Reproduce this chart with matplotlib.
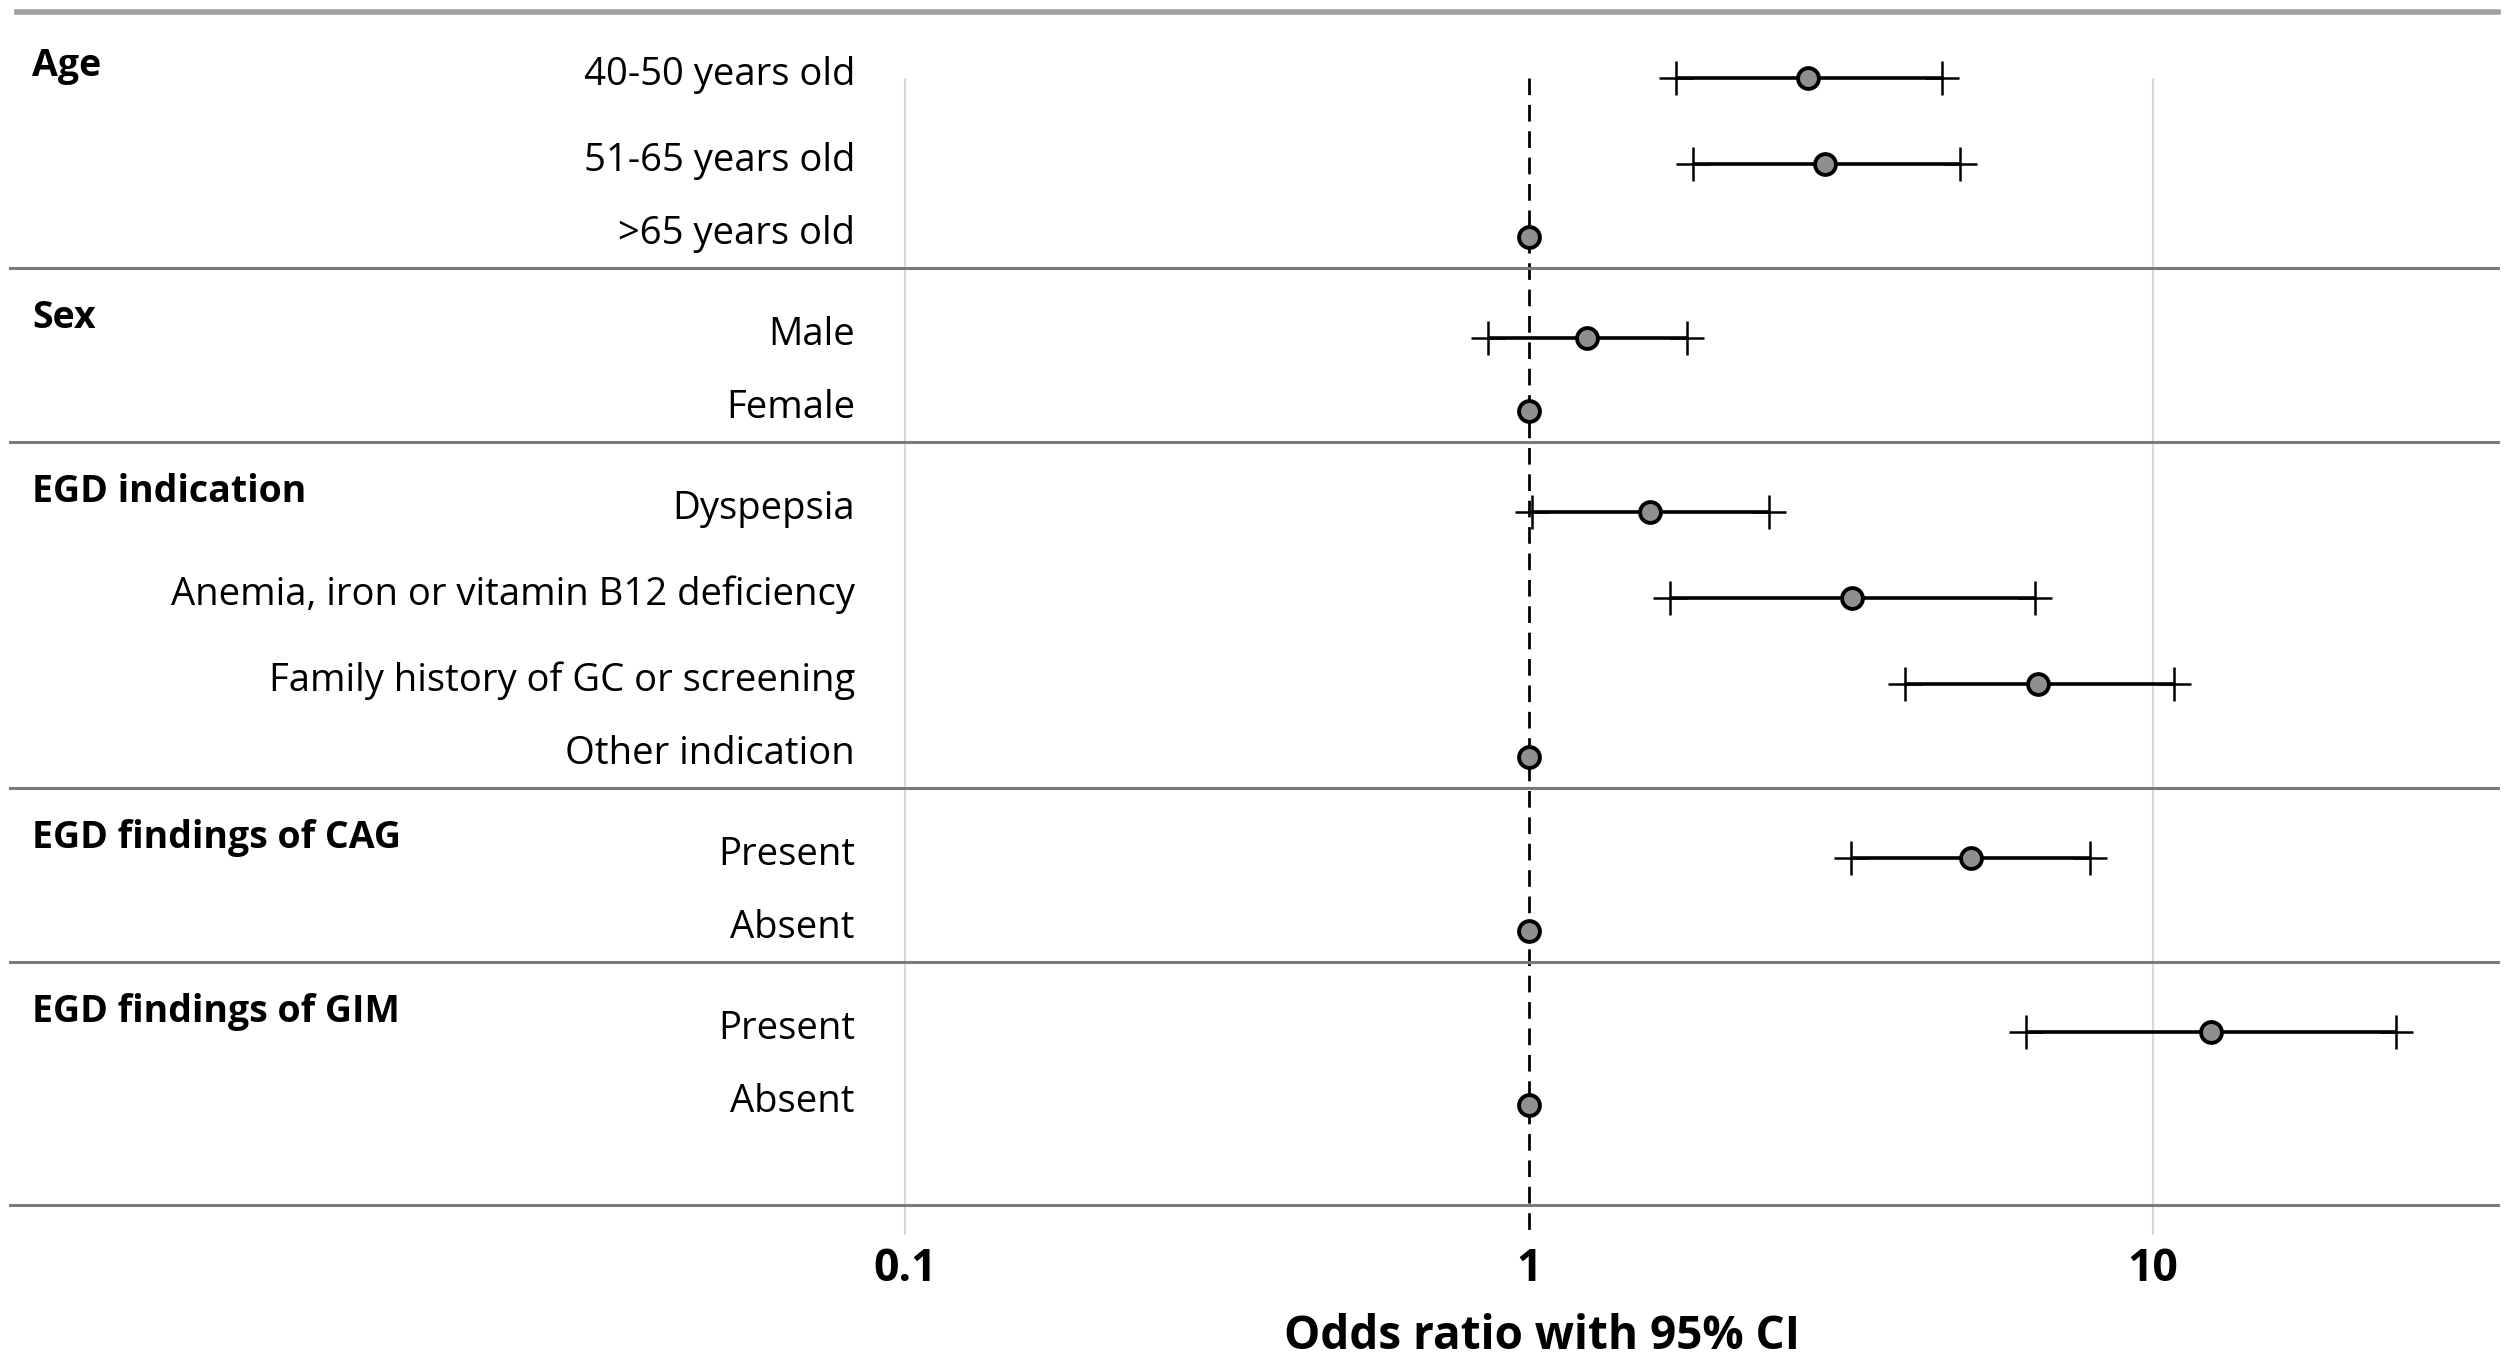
import numpy as np
import matplotlib.pyplot as plt

plt.rcParams['font.family'] = ['Open Sans', 'DejaVu Sans']

# gruplar ve satirlar
bolumler = ["Age", "Sex", "EGD indication", "EGD findings of CAG", "EGD findings of GIM"]
satirlar = [
    ["40-50 years old", "51-65 years old", ">65 years old"],
    ["Male", "Female"],
    ["Dyspepsia", "Anemia, iron or vitamin B12 deficiency",
     "Family history of GC or screening", "Other indication"],
    ["Present", "Absent"],
    ["Present", "Absent"],
]
# odds ratio ve %95 GA (referans satirlarda GA yok)
odds = [2.80, 2.98, 1.0, 1.24, 1.0, 1.56, 3.29, 6.54, 1.0, 5.11, 1.0, 12.4, 1.0]
ci_alt = [1.72, 1.83, np.nan, 0.86, np.nan, 1.01, 1.68, 4.0, np.nan, 3.28, np.nan, 6.26, np.nan]
ci_ust = [4.59, 4.91, np.nan, 1.79, np.nan, 2.42, 6.47, 10.8, np.nan, 7.93, np.nan, 24.5, np.nan]
tick_degerleri = [0.1, 1, 10]
tick_etiketleri = ["0.1", "1", "10"]

W, H = 2508, 1367
fig = plt.figure(figsize=(W / 100, H / 100), dpi=100)
sol_px, sag_px, ust_px, alt_px = 10, 2498, 12, 1205
ax = fig.add_axes([sol_px / W, (H - alt_px) / H, (sag_px - sol_px) / W, (alt_px - ust_px) / H])

# satir konumlari (ust cizgiden asagi dogru)
adim, ref_adim, ilk_bosluk, son_bosluk = 86, 73, 66, 31
y_satir = []
y_cizgi = []
y_baslik = []
y = 0
for i, grup in enumerate(satirlar):
    y += ilk_bosluk if i == 0 else 70
    y_baslik.append(y - (12 if i == 0 else 20))
    for j in range(len(grup)):
        y_satir.append(y)
        if j < len(grup) - 2:
            y += adim
        elif j == len(grup) - 2:
            y += ref_adim
    y += son_bosluk
    y_cizgi.append(y)
y_alt = y_satir[-1] + 100
y_cizgi[-1] = y_alt

ax.set_xscale('log')
x_sol = 10 ** ((sol_px - 1529) / 624)
x_sag = 10 ** ((sag_px - 1529) / 624)
ax.set_xlim(x_sol, x_sag)
ax.set_ylim(y_alt, 0)

for s in ax.spines.values():
    s.set_visible(False)

# dikey izgara ve referans cizgisi
ax.vlines([0.1, 10], y_satir[0], y_alt + 30, color='#d8d8d8', lw=1.5, clip_on=False, zorder=0)
ax.vlines(1, y_satir[0], y_alt + 30, color='black', lw=2, linestyles=(0, (6, 3.5)), clip_on=False, zorder=1)

# yatay bolum cizgileri
ax.axhline(0, xmin=7 / 2488, xmax=1, color='#a0a0a0', lw=4, clip_on=False)
for yc in y_cizgi:
    ax.axhline(yc, color='#7a7a7a', lw=2.2, clip_on=False)

# guven araliklari ve noktalar
ys = np.array(y_satir)
ax.hlines(ys, ci_alt, ci_ust, color='black', lw=2.6, zorder=3)
ax.plot(ci_alt, ys, '+', ms=25, mew=1.8, color='black', zorder=3)
ax.plot(ci_ust, ys, '+', ms=25, mew=1.8, color='black', zorder=3)
ax.plot(odds, ys, 'o', ms=15, mfc='#8f8f8f', mec='black', mew=2.8, zorder=4)

# etiketler
tr = ax.get_yaxis_transform()
etiket_x = (855 - sol_px) / (sag_px - sol_px)
baslik_x = (32 - sol_px) / (sag_px - sol_px)
k = 0
for i, grup in enumerate(satirlar):
    ax.text(baslik_x, y_baslik[i], bolumler[i], transform=tr, ha='left', va='center',
            fontsize=27, fontweight='bold')
    for lab in grup:
        ax.text(etiket_x, y_satir[k] - 3, lab, transform=tr, ha='right', va='center', fontsize=27.5)
        k += 1

ax.set_yticks([])
ax.set_xticks(tick_degerleri, tick_etiketleri)
ax.minorticks_off()
ax.tick_params(axis='x', length=0, pad=30, labelsize=32)
for t in ax.get_xticklabels():
    t.set_fontweight('bold')

ax.set_xlabel("Odds ratio with 95% CI", fontsize=33, fontweight='bold')
ax.xaxis.set_label_coords((1542 - sol_px) / (sag_px - sol_px), (alt_px - 1313) / (alt_px - ust_px))

fig.savefig('out.png', dpi=100)
